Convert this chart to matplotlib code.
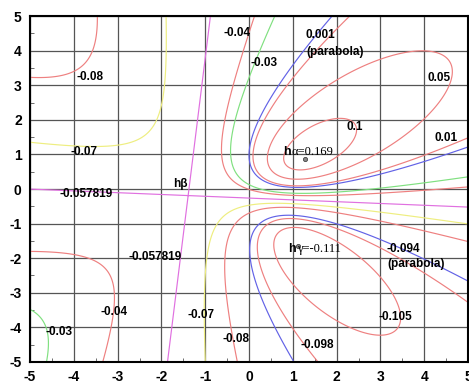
import numpy as np
import matplotlib.pyplot as plt

plt.rcParams['font.family'] = ['Liberation Sans', 'DejaVu Sans']
plt.rcParams['axes.unicode_minus'] = False

# critical points: (x, y, h)
h_alpha = (1.28, 0.87, 0.169)
h_beta = (-1.39, -0.19, -0.057819)
h_gamma = (1.12, -1.65, -0.111)
# slopes of the two straight separatrix lines through h_beta
sep_slope_flat = -0.052   # dy/dx
sep_slope_steep = 0.098   # dx/dy

# points picked off each drawn contour (x, y), grouped by level
c_p01 = [(2.5, 1.55), (1.85, 2.05), (1.85, 1.13), (0.97, 1.42), (0.75, 0.9),
         (1.2, 0.5), (2.1, 0.9)]
c_p005 = [(4.45, 3.1), (3.4, 3.9), (3.84, 2.3), (2.3, 3.3), (0.9, 1.9),
          (0.45, 1.04), (0.8, 0.45), (1.8, 0.35), (3.0, 1.3)]
c_p001 = [(1.8, 5), (1.16, 3.93), (0.55, 2.77), (0.14, 1.9), (-0.05, 0.92),
          (0.05, 0.35), (0.41, 0.05), (1.0, 0.0), (2.0, 0.14), (3.0, 0.38),
          (4.0, 0.84), (5, 1.33)]
c_m003 = [(0.53, 5), (-0.2, 1.8), (-0.3, 0.9), (-0.1, 0.25), (0.5, -0.05),
          (2.0, -0.08), (3.0, 0.05), (5, 0.4),
          (-5, -3.3), (-4.7, -3.6), (-4.47, -4.0), (-4.4, -4.4), (-4.43, -5)]
c_m004 = [(0.14, 5), (-0.2, 3.24), (-0.55, 1.7), (-0.62, 1.0), (-0.45, 0.3),
          (0.3, -0.12), (2.0, -0.15), (5, 0.0),
          (-5, -1.76), (-3.4, -1.82), (-3.1, -2.14), (-3.0, -2.63),
          (-3.0, -3.8), (-3.2, -5)]
c_m007 = [(-5, 1.33), (-4.16, 1.13), (-3.0, 1.1), (-2.49, 1.21), (-2.1, 1.6),
          (-1.96, 2.08), (-1.85, 3.53), (-1.76, 4.97),
          (-1.0, -5), (-0.98, -3.5), (-0.9, -1.8), (-0.5, -0.8),
          (-0.14, -0.52), (0.7, -0.42), (2.0, -0.5), (3.5, -0.7), (5, -0.9)]
c_m008 = [(-5, 3.0), (-4.16, 3.02), (-3.56, 3.24), (-3.33, 3.64), (-3.26, 4.0),
          (-3.24, 4.9),
          (-0.37, -4.94), (-0.59, -3.1), (-0.7, -2.14), (-0.59, -1.4),
          (1.0, -0.85), (3.0, -1.3), (5, -1.8)]
c_m0094 = [(0.94, -4.94), (0.41, -3.4), (0.02, -2.43), (-0.02, -1.47),
           (0.05, -1.1), (0.41, -0.75), (1.0, -0.69), (2.0, -0.95),
           (3.0, -1.33), (3.84, -1.97), (4.9, -2.63)]
c_m0098 = [(0.25, -1.5), (0.6, -3.0), (1.3, -4.3), (2.2, -5.0), (5, -3.05),
           (3.5, -2.3), (1.5, -1.1)]
c_m0105 = [(3.29, -4.07), (2.99, -3.1), (1.85, -3.9), (3.0, -4.16),
           (0.5, -1.4), (1.5, -1.3)]

fit_sets = [(0.1, c_p01), (0.05, c_p005), (0.001, c_p001), (-0.03, c_m003),
            (-0.04, c_m004), (-0.07, c_m007), (-0.08, c_m008),
            (-0.094, c_m0094), (-0.098, c_m0098), (-0.105, c_m0105)]

# drawn levels and their colours
levels = [-0.105, -0.098, -0.094, -0.08, -0.07, -0.057819, -0.04, -0.03,
          0.001, 0.01, 0.05, 0.1]
level_colors = ['#ee8080', '#ee8080', '#6262e6', '#ee8080', '#eeee80',
                '#e070e0', '#ee8080', '#80e080', '#6262e6', '#ee8080',
                '#ee8080', '#ee8080']

# text labels: (x, y, text)
labels = [(-3.63, 3.24, '-0.08'), (-3.77, 1.07, '-0.07'),
          (-3.73, -0.14, '-0.057819'), (-1.57, 0.14, 'hβ'),
          (-2.15, -1.97, '-0.057819'), (-3.08, -3.55, '-0.04'),
          (-4.34, -4.13, '-0.03'), (-1.1, -3.64, '-0.07'),
          (-0.30, -4.34, '-0.08'), (1.55, -4.51, '-0.098'),
          (3.33, -3.70, '-0.105'), (3.52, -1.73, '-0.094'),
          (3.81, -2.17, '(parabola)'), (2.42, 1.79, '0.1'),
          (4.5, 1.47, '0.01'), (4.34, 3.21, '0.05'), (1.62, 4.45, '0.001'),
          (1.96, 3.96, '(parabola)'), (0.34, 3.64, '-0.03'),
          (-0.28, 4.51, '-0.04')]

xs0, ys0, hs = h_beta


def lines(x, y):
    # product of the two separatrix lines, and its gradient
    l1 = (y - ys0) - sep_slope_flat * (x - xs0)
    l2 = (x - xs0) - sep_slope_steep * (y - ys0)
    g = (l2 * -sep_slope_flat + l1, l2 + l1 * -sep_slope_steep)
    return l1 * l2, g


def mono(x, y):
    return np.array([x, y, x * x, x * y, y * y])


def mono_dx(x, y):
    return np.array([1, 0, 2 * x, y, 0])


def mono_dy(x, y):
    return np.array([0, 1, 0, x, 2 * y])


# surface h = hs + k*L1*L2/Q with Q = 1 + b.m, fitted to the picked points
rows, rhs = [], []
for lev, pts in fit_sets:
    for x, y in pts:
        d = 10 * (lev - hs)
        p, _ = lines(x, y)
        rows.append(np.concatenate([[-p], d * mono(x, y)]))
        rhs.append(-d)
for x, y, lev in (h_alpha, h_gamma):
    d = 10 * (lev - hs)
    p, g = lines(x, y)
    wt = 3.0
    rows.append(wt * np.concatenate([[-p], d * mono(x, y)]))
    rhs.append(-wt * d)
    rows.append(wt * np.concatenate([[-g[0]], d * mono_dx(x, y)]))
    rhs.append(0.0)
    rows.append(wt * np.concatenate([[-g[1]], d * mono_dy(x, y)]))
    rhs.append(0.0)
sol = np.linalg.lstsq(np.array(rows), np.array(rhs), rcond=None)[0]
k, coef_q = sol[0], sol[1:]

xs = np.linspace(-5, 5, 500)
X, Y = np.meshgrid(xs, xs)
Q = 1 + np.tensordot(coef_q, np.array([X, Y, X * X, X * Y, Y * Y]), 1)
H = hs + k * lines(X, Y)[0] / Q / 10

fig = plt.figure(figsize=(4.69, 3.83), dpi=100)
ax = fig.add_axes([0.064, 0.055, 0.934, 0.903])
ax.contour(X, Y, H, levels=levels, colors=level_colors, linewidths=0.85)

for x, y, t in labels:
    ax.text(x, y, t, fontsize=8.5, fontweight='bold', ha='center',
            va='center')
ax.text(h_alpha[0] - 0.5, h_alpha[1] + 0.2, 'h', fontsize=9,
        fontweight='bold', va='center')
ax.text(h_alpha[0] - 0.3, h_alpha[1] + 0.2, 'α=0.169', fontsize=9,
        family='Liberation Serif', va='center')
ax.text(h_gamma[0] - 0.23, h_gamma[1] - 0.08, 'h', fontsize=9,
        fontweight='bold', va='center')
ax.text(h_gamma[0] - 0.03, h_gamma[1] - 0.08, 'γ=-0.111', fontsize=9,
        family='Liberation Serif', va='center')
ax.plot([h_alpha[0], h_gamma[0]], [h_alpha[1], h_gamma[1]], 'o', ms=3,
        mfc='#888888', mec='#444444', mew=0.6, ls='none')

ax.set_xlim(-5, 5)
ax.set_ylim(-5, 5)
ax.set_xticks(range(-5, 6))
ax.set_yticks(range(-5, 6))
ax.set_xticks(np.arange(-4.5, 5, 1), minor=True)
ax.set_yticks(np.arange(-4.5, 5, 1), minor=True)
ax.tick_params(which='major', length=0, labelsize=10, pad=6)
ax.tick_params(which='minor', direction='in', length=3, color='#555555')
for lab in ax.get_xticklabels() + ax.get_yticklabels():
    lab.set_fontweight('bold')
ax.grid(True, color='#555555', lw=0.9)
for s in ax.spines.values():
    s.set_linewidth(1.5)
fig.savefig('out.png')
